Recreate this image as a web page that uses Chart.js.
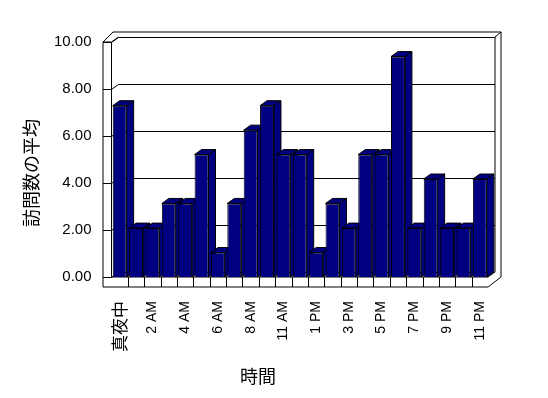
<!DOCTYPE html>
<html>
<head>
<meta charset="utf-8">
<script src="https://cdn.jsdelivr.net/npm/chart.js@4"></script>
<style>
  html, body { margin: 0; padding: 0; background: #fff; }
  #wrap { width: 548px; height: 398px; }
</style>
</head>
<body>
<div id="wrap"><canvas id="visitas"></canvas></div>
<script>
// 時間ごとの訪問数の平均
const hours = ['真夜中', '1 AM', '2 AM', '3 AM', '4 AM', '5 AM', '6 AM', '7 AM', '8 AM', '9 AM',
    '11 AM', '正午', '1 PM', '2 PM', '3 PM', '4 PM', '5 PM', '6 PM', '7 PM', '8 PM', '9 PM', '10 PM', '11 PM'];
const visits = [7.29, 2.08, 2.08, 3.13, 3.13, 5.21, 1.04, 3.13, 6.25, 7.29, 5.21,
    5.21, 1.04, 3.13, 2.08, 5.21, 5.21, 9.38, 2.08, 4.17, 2.08, 2.08, 4.17];
const yTicks = [0, 2, 4, 6, 8, 10];
const yTitle = '訪問数の平均';
const xTitle = '時間';

const DX = 7, DY = -5;
const LATIN = "'Liberation Sans', 'Noto Sans CJK JP', sans-serif";
const CJK = "'Noto Sans CJK JP', sans-serif";

function line(ctx, pts) {
    ctx.beginPath();
    ctx.moveTo(pts[0][0], pts[0][1]);
    for (let i = 1; i < pts.length; i++) ctx.lineTo(pts[i][0], pts[i][1]);
    ctx.stroke();
}

const frame3d = {
    id: 'frame3d',
    beforeDatasetsDraw(chart) {
        const {ctx, chartArea: {left, right, top, bottom}, scales: {x, y}} = chart;
        const oL = left - 8.5, oT = top - 10, oR = right + 13, oB = bottom + 10;
        ctx.save();
        ctx.strokeStyle = '#000';
        ctx.lineWidth = 1;
        // outer outline
        line(ctx, [[oL, oB], [oL, top], [oL + 10, oT], [oR, oT], [oR, bottom], [right, oB], [oL, oB]]);
        // side wall front edge
        line(ctx, [[left, top], [left, bottom]]);
        line(ctx, [[oL, top], [left, top], [left + DX, top + DY]]);
        // back wall
        line(ctx, [[right + DX, top + DY], [oR, oT]]);
        line(ctx, [[right + DX, top + DY], [right + DX, bottom + DY]]);
        // grid lines on back wall
        yTicks.forEach(function (v) {
            const py = Math.round(y.getPixelForValue(v)) + 0.5;
            line(ctx, [[oL, py], [left, py], [left + DX, py + DY], [right + DX, py + DY]]);
        });
        // floor front
        line(ctx, [[left, bottom], [right, bottom], [right + DX, bottom + DY]]);
        for (let i = 0; i < hours.length - 1; i++) {
            const bx = Math.round((x.getPixelForValue(i) + x.getPixelForValue(i + 1)) / 2) + 0.5;
            line(ctx, [[bx, bottom], [bx, oB]]);
        }
        // bar tops and sides
        const meta = chart.getDatasetMeta(0);
        ctx.fillStyle = '#000080';
        meta.data.forEach(function (bar) {
            const xL = bar.x - bar.width / 2, xR = bar.x + bar.width / 2;
            const yT = bar.y, yB = bar.base;
            ctx.beginPath();
            ctx.moveTo(xR, yT);
            ctx.lineTo(xR, yB);
            ctx.lineTo(xR + DX, yB + DY);
            ctx.lineTo(xR + DX, yT + DY);
            ctx.closePath();
            ctx.fill();
            ctx.stroke();
            ctx.beginPath();
            ctx.moveTo(xL, yT);
            ctx.lineTo(xR, yT);
            ctx.lineTo(xR + DX, yT + DY);
            ctx.lineTo(xL + DX, yT + DY);
            ctx.closePath();
            ctx.fill();
            ctx.stroke();
        });
        ctx.restore();
    },
    afterDraw(chart) {
        const ctx = chart.ctx;
        ctx.save();
        ctx.fillStyle = '#000';
        ctx.font = '18px ' + CJK;
        ctx.textAlign = 'center';
        ctx.textBaseline = 'middle';
        ctx.translate(31, 173);
        ctx.rotate(-Math.PI / 2);
        ctx.fillText(yTitle, 0, 0);
        ctx.restore();
        ctx.save();
        ctx.fillStyle = '#000';
        ctx.font = '18px ' + CJK;
        ctx.textAlign = 'center';
        ctx.textBaseline = 'middle';
        ctx.fillText(xTitle, 258, 376);
        ctx.restore();
    }
};

const ctx = document.getElementById('visitas').getContext('2d');
const myChart = new Chart(ctx, {
    type: 'bar',
    data: {
        labels: hours,
        datasets: [{
            label: yTitle,
            data: visits,
            backgroundColor: '#000080',
            borderColor: '#000',
            borderWidth: 1,
            barPercentage: 0.85,
            categoryPercentage: 1
        }]
    },
    options: {
        responsive: true,
        maintainAspectRatio: false,
        animation: false,
        layout: {
            padding: {left: 0, right: 60, top: 42, bottom: 0}
        },
        scales: {
            x: {
                grid: {display: false, drawTicks: false},
                border: {display: false},
                ticks: {
                    autoSkip: false,
                    minRotation: 90,
                    maxRotation: 90,
                    padding: 24,
                    color: '#000',
                    font: function (c) {
                        return c.index === 0 ? {family: CJK, size: 17} : {family: LATIN, size: 14};
                    },
                    callback: function (val, i) {
                        return i % 2 === 0 ? hours[i] : '';
                    }
                },
                afterFit: function (s) { s.height = 121; }
            },
            y: {
                min: 0,
                max: 10,
                grid: {display: false, drawTicks: false},
                border: {display: false},
                afterBuildTicks: function (s) {
                    s.ticks = yTicks.map(function (v) { return {value: v}; });
                },
                ticks: {
                    padding: 20,
                    color: '#000',
                    font: {family: LATIN, size: 15},
                    callback: function (v) { return Number(v).toFixed(2); }
                },
                afterFit: function (s) { s.width = 111.5; }
            }
        },
        plugins: {
            legend: {display: false},
            title: {display: false},
            tooltip: {enabled: false}
        }
    },
    plugins: [frame3d]
});
</script>
</body>
</html>
